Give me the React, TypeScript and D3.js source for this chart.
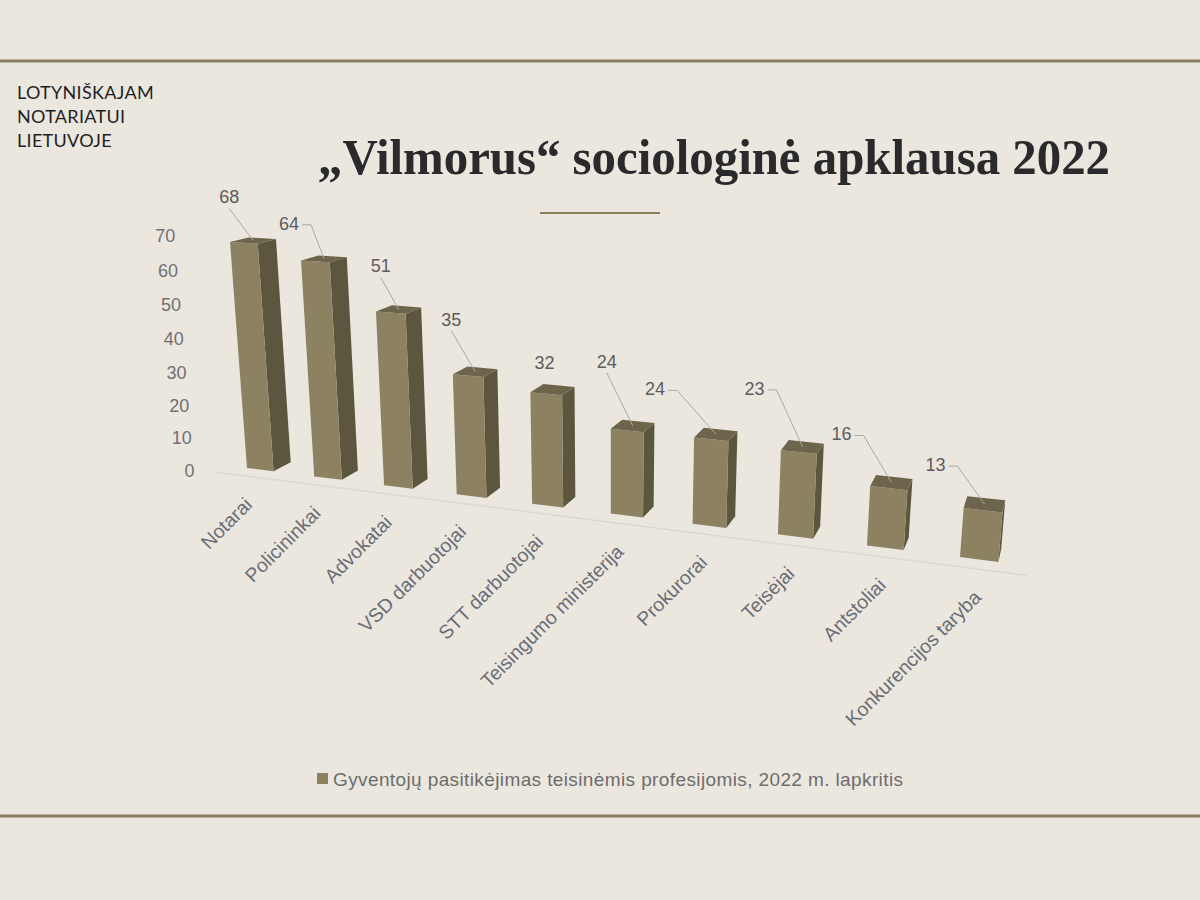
import React from "react";
import * as d3 from "d3";

const categories = [
  "Notarai",
  "Policininkai",
  "Advokatai",
  "VSD darbuotojai",
  "STT darbuotojai",
  "Teisingumo ministerija",
  "Prokurorai",
  "Teisėjai",
  "Antstoliai",
  "Konkurencijos taryba",
];
const values = [68, 64, 51, 35, 32, 24, 24, 23, 16, 13];
const yTicks = [0, 10, 20, 30, 40, 50, 60, 70];
const seriesName = "Gyventojų pasitikėjimas teisinėmis profesijomis, 2022 m. lapkritis";
const brandLines = ["LOTYNIŠKAJAM", "NOTARIATUI", "LIETUVOJE"];
const title = "„Vilmorus“ sociologinė apklausa 2022";

// data labels were dragged by hand in the original, offsets in px from bar top
const labelNudge: [number, number][] = [
  [-24, -42], [-35, -34], [-18, -42], [-24, -51], [-8, -25],
  [-26, -63], [-61, -44], [-48, -57], [-50, -47], [-49, -38],
];

const W = 1200;
const H = 900;
const bg = "#ebe7df";
const gold = "#8b7f5f";
const faceFront = "#8c8262";
const faceSide = "#5d563f";
const faceTop = "#6c644b";
const sans = "'Liberation Sans', Arial, sans-serif";

// simple pinhole camera, tilted down a bit
const cam = { cx: 609, cy: 400, f: 1358, pitch: Math.atan(0.2776) };
const yaw = Math.atan2(1, 2.783);
const origin = [-0.8952, -1, 3.0277];
const step = 0.18021;
const depth = 0.072;
const floorFront = 0.05;

const ux = Math.cos(yaw), uz = -Math.sin(yaw);
const vx = Math.sin(yaw), vz = Math.cos(yaw);
const cp = Math.cos(cam.pitch), sp = Math.sin(cam.pitch);

// s: along category axis, h: height, t: depth
const project = (s: number, h: number, t: number): [number, number] => {
  const X = origin[0] + s * ux + t * vx;
  const Y = origin[1] + h;
  const Z = origin[2] + s * uz + t * vz;
  const yc = -Y * cp - Z * sp;
  const zc = -Y * sp + Z * cp;
  return [cam.cx + (cam.f * X) / zc, cam.cy + (cam.f * yc) / zc];
};

const x = d3
  .scaleBand<string>()
  .domain(categories)
  .range([0, step * categories.length])
  .paddingInner(0.6)
  .paddingOuter(0.3);
const y = d3.scaleLinear().domain([0, 70]).range([0, 70 * 0.0077927]);

const poly = (pts: [number, number][]) => (d3.line()(pts) || "") + "Z";

const App = () => {
  const bw = x.bandwidth();
  const floorA = project(0, 0, -floorFront);
  const floorB = project(step * categories.length, 0, -floorFront);

  return (
    <svg
      width={W}
      height={H}
      style={{ position: "absolute", left: 0, top: 0, background: bg }}
    >
      <rect width={W} height={H} fill={bg} />
      <line x1={0} x2={W} y1={61} y2={61} stroke={gold} strokeWidth={3} />
      <line x1={0} x2={W} y1={816} y2={816} stroke={gold} strokeWidth={3} />

      {brandLines.map((t, i) => (
        <text
          key={t}
          x={17}
          y={99 + i * 24}
          fontFamily="Lato, 'Open Sans', sans-serif"
          fontSize={18}
          letterSpacing={0.3}
          fill="#1f1f1f"
        >
          {t}
        </text>
      ))}

      <text
        x={318}
        y={174}
        fontFamily="'Liberation Serif', 'DejaVu Serif', serif"
        fontWeight="bold"
        fontSize={51}
        textLength={792}
        lengthAdjust="spacingAndGlyphs"
        fill="#2a2a2d"
      >
        {title}
      </text>
      <line x1={540} x2={660} y1={213} y2={213} stroke={gold} strokeWidth={2} />

      {/* floor edge */}
      <line
        x1={floorA[0]} y1={floorA[1]} x2={floorB[0]} y2={floorB[1]}
        stroke="#dcd8cf" strokeWidth={1.5}
      />

      {/* value axis labels */}
      {yTicks.map((t) => {
        const [px, py] = project(0, y(t), -floorFront);
        return (
          <text
            key={t}
            x={px - 20}
            y={py}
            textAnchor="end"
            dominantBaseline="middle"
            fontFamily={sans}
            fontSize={18}
            fill="#707075"
          >
            {t}
          </text>
        );
      })}

      {/* bars, far (left) to near (right) */}
      {categories.map((c, i) => {
        const s0 = x(c) as number;
        const s1 = s0 + bw;
        const h = y(values[i]);
        const front = [project(s0, 0, 0), project(s1, 0, 0), project(s1, h, 0), project(s0, h, 0)];
        const side = [project(s1, 0, 0), project(s1, 0, depth), project(s1, h, depth), project(s1, h, 0)];
        const top = [project(s0, h, 0), project(s1, h, 0), project(s1, h, depth), project(s0, h, depth)];
        return (
          <g key={c}>
            <path d={poly(side)} fill={faceSide} />
            <path d={poly(front)} fill={faceFront} />
            <path d={poly(top)} fill={faceTop} />
          </g>
        );
      })}

      {/* data labels with leader lines */}
      {categories.map((c, i) => {
        const s = (x(c) as number) + bw / 2;
        const [tx, ty] = project(s, y(values[i]), depth / 2);
        const [dx, dy] = labelNudge[i];
        const lx = tx + dx;
        const ly = ty + dy;
        const half = 10;
        let leader: string | null = null;
        if (Math.hypot(dx, dy) > 30) {
          if (Math.abs(dx) > 0.75 * Math.abs(dy)) {
            leader = d3.line()([
              [lx + half + 3, ly],
              [lx + half + 12, ly],
              [tx, ty],
            ]);
          } else {
            leader = d3.line()([
              [lx, ly + 10],
              [tx, ty],
            ]);
          }
        }
        return (
          <g key={c}>
            {leader && <path d={leader} fill="none" stroke="#a9a9a9" strokeWidth={1} />}
            <text
              x={lx}
              y={ly}
              textAnchor="middle"
              dominantBaseline="middle"
              fontFamily={sans}
              fontSize={18}
              fill="#5c5c5f"
            >
              {values[i]}
            </text>
          </g>
        );
      })}

      {/* category labels */}
      {categories.map((c) => {
        const [px, py] = project((x(c) as number) + bw / 2, 0, -floorFront);
        return (
          <text
            key={c}
            transform={`translate(${px + 2},${py + 26}) rotate(-45)`}
            textAnchor="end"
            dominantBaseline="middle"
            fontFamily={sans}
            fontSize={19.5}
            fill="#6a6d76"
          >
            {c}
          </text>
        );
      })}

      {/* legend */}
      <rect x={317} y={773} width={11} height={11} fill={faceFront} />
      <text
        x={333}
        y={786}
        fontFamily={sans}
        fontSize={19}
        textLength={570}
        lengthAdjust="spacing"
        fill="#6d6d6d"
      >
        {seriesName}
      </text>
    </svg>
  );
};

export default App;
